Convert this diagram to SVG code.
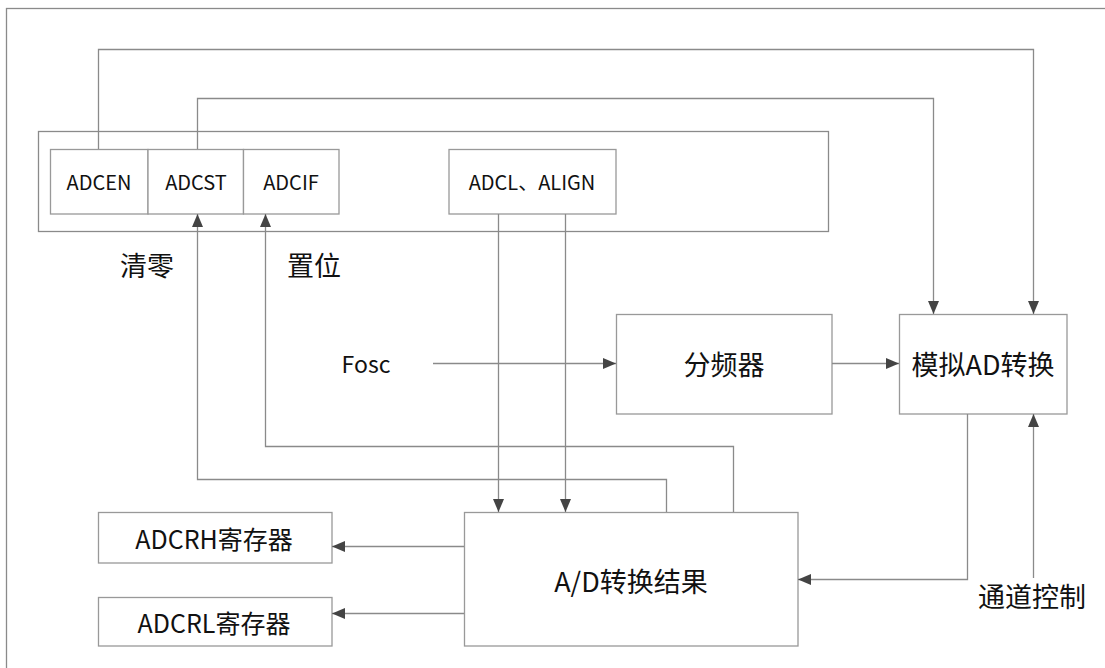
<svg xmlns="http://www.w3.org/2000/svg" width="1105" height="668" viewBox="0 0 1105 668">
<defs>
<style>
.box{fill:#fff;stroke:#999;stroke-width:1.3}
.frame{fill:none;stroke:#8a8a8a;stroke-width:1.3}
.ln{fill:none;stroke:#8a8a8a;stroke-width:1.3}
.ar{marker-end:url(#ah)}
text{font-family:"Noto Sans CJK SC","Noto Sans",sans-serif;fill:#111;text-anchor:middle;dominant-baseline:central}
.t20{font-size:20px}
.t25{font-size:25px}
.t27{font-size:27px}
.t23{font-size:23px}
</style>
<marker id="ah" markerUnits="userSpaceOnUse" markerWidth="14" markerHeight="12" refX="13" refY="5.5" orient="auto">
<path d="M0,0 L13,5.5 L0,11 z" fill="#444"/>
</marker>
</defs>
<rect width="1105" height="668" fill="#fff"/>
<rect id="outer-frame" class="frame" x="6.5" y="8.5" width="1120" height="700"/>
<g id="control-register">
<rect class="frame" x="38.5" y="131.5" width="790" height="100"/>
</g>
<g id="ADCEN"><rect class="box" x="50.5" y="149.5" width="97.5" height="64.5"/><text class="t20" x="99" y="181">ADCEN</text></g>
<g id="ADCST"><rect class="box" x="148" y="149.5" width="95.5" height="64.5"/><text class="t20" x="196" y="181">ADCST</text></g>
<g id="ADCIF"><rect class="box" x="243.5" y="149.5" width="95.5" height="64.5"/><text class="t20" x="291" y="181">ADCIF</text></g>
<g id="ADCL-ALIGN"><rect class="box" x="449" y="149.5" width="167" height="64.5"/><text class="t20" x="532" y="181">ADCL、ALIGN</text></g>
<g id="divider"><rect class="box" x="616.5" y="314.5" width="215.5" height="99.5"/><text class="t27" x="724" y="363">分频器</text></g>
<g id="analog-ad"><rect class="box" x="899.5" y="314.5" width="167.5" height="99.5"/><text class="t27" x="983" y="363">模拟AD转换</text></g>
<g id="ad-result"><rect class="box" x="464.5" y="512.5" width="333.5" height="133.5"/><text class="t27" x="631" y="580">A/D转换结果</text></g>
<g id="ADCRH"><rect class="box" x="98.5" y="512.5" width="233.5" height="50.5"/><text class="t25" x="214" y="538">ADCRH寄存器</text></g>
<g id="ADCRL"><rect class="box" x="98.5" y="597.5" width="233.5" height="48.5"/><text class="t25" x="214" y="622">ADCRL寄存器</text></g>
<g id="labels">
<text class="t27" x="147" y="264">清零</text>
<text class="t27" x="314" y="264">置位</text>
<text class="t23" x="366" y="363">Fosc</text>
<text class="t27" x="1032" y="595">通道控制</text>
</g>
<g id="connectors">
<path class="ln ar" d="M98.5,149 V49.5 H1033.5 V314"/>
<path class="ln ar" d="M197.5,149 V98.5 H933.5 V314"/>
<path class="ln ar" d="M498.5,214 V512"/>
<path class="ln ar" d="M565.5,214 V512"/>
<path class="ln ar" d="M433,363.5 H616"/>
<path class="ln ar" d="M832,363.5 H899"/>
<path class="ln ar" d="M967.5,414 V579.5 H798"/>
<path class="ln ar" d="M1033.5,578 V414"/>
<path class="ln ar" d="M666.5,512 V479.5 H197.5 V214"/>
<path class="ln ar" d="M733.5,512 V446.5 H265.5 V214"/>
<path class="ln ar" d="M464,546.5 H332"/>
<path class="ln ar" d="M464,613.5 H332"/>
</g>
</svg>
